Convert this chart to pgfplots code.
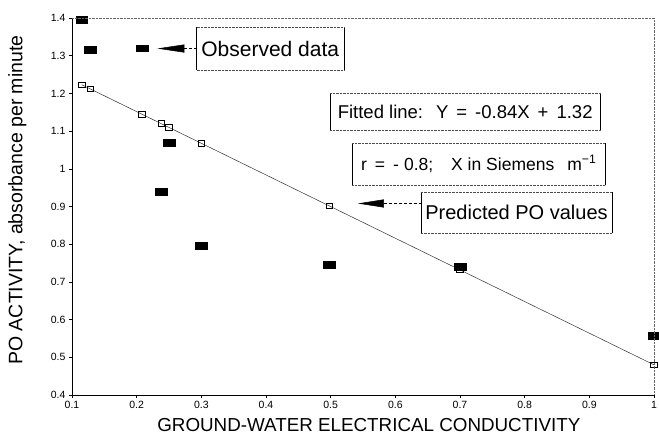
\documentclass[border=0pt]{standalone}
\usepackage{fontspec}
\setmainfont{Liberation Sans}
\usepackage{pgfplots}
\pgfplotsset{compat=1.18}
\usetikzlibrary{arrows.meta}

% observed PO activity vs conductivity
\pgfplotstableread{
x      y
0.115  1.395
0.128  1.316
0.208  1.320
0.238  0.940
0.250  1.069
0.300  0.795
0.498  0.745
0.700  0.740
1.000  0.557
}\observed

% predicted values, Y = -0.84X + 1.32
\pgfplotstableread{
x      y
0.115  1.223
0.128  1.212
0.208  1.145
0.238  1.120
0.250  1.110
0.300  1.068
0.498  0.902
0.700  0.732
1.000  0.480
}\predicted

\tikzset{
  annot/.style={inner sep=0pt, anchor=center},
  halfbox/.style={densely dotted, black!70},
}
\newcommand{\gap}[1][8pt]{\hspace{#1}}

\begin{document}
\begin{tikzpicture}
\begin{axis}[
    width=582pt, height=377pt, scale only axis,
    xmin=0.1, xmax=1, ymin=0.4, ymax=1.4,
    axis x line*=bottom, axis y line*=left,
    axis line style={black, line width=0.6pt},
    xtick={0.1,0.2,...,1.0},
    ytick={0.4,0.5,...,1.41},
    tick align=outside,
    major tick length=3pt,
    tick style={black, line width=0.5pt},
    /pgf/number format/assume math mode=true,
    ticklabel style={font=\fontsize{10.5}{12}\selectfont},
    xlabel={GROUND-WATER ELECTRICAL CONDUCTIVITY},
    ylabel={PO ACTIVITY, absorbance per minute},
    xlabel style={font=\fontsize{18.8}{20}\selectfont,
                  at={(axis description cs:0.51,-0.08)}, anchor=center},
    ylabel style={font=\fontsize{19.5}{21}\selectfont,
                  at={(axis description cs:-0.094,0.517)}, anchor=center},
    clip=false,
]
  % fitted line
  \addplot[black!80, line width=0.5pt, mark=none]
    coordinates {(0.115,1.223) (1.0,0.480)};
  % predicted values
  \addplot[only marks, mark=square, mark size=2.8pt,
           mark options={black, fill=white, line width=0.7pt, xscale=1.15}]
    table[x=x, y=y] {\predicted};
  % observed values
  \addplot[only marks, mark=square*, mark size=3.4pt,
           mark options={black, fill=black, xscale=1.75}]
    table[x=x, y=y] {\observed};

  \coordinate (O) at (rel axis cs:0,0);
  \coordinate (T) at (rel axis cs:1,1);
  \coordinate (TL) at (rel axis cs:0,1);
  \coordinate (BR) at (rel axis cs:1,0);
  \coordinate (obC) at (axis cs:0.4065,1.319);
  \coordinate (obTip) at (axis cs:0.232,1.319);
  \coordinate (fitC) at (axis cs:0.708,1.152);
  \coordinate (rrC) at (axis cs:0.729,1.0127);
  \coordinate (prC) at (axis cs:0.7874,0.884);
  \coordinate (prStart) at (axis cs:0.641,0.908);
  \coordinate (prTip) at (axis cs:0.542,0.908);
\end{axis}

\draw[densely dotted, black!60] (TL) -- (T) -- (BR);

% annotation boxes
\node[annot, minimum width=147pt, minimum height=43pt, font=\fontsize{21}{23}\selectfont] (ob) at (obC) {Observed data};
\node[annot, minimum width=270pt, minimum height=37pt, font=\fontsize{18.5}{20}\selectfont] (fit) at (fitC)
  {Fitted line:\gap[13pt]Y\gap=\gap-0.84X\gap+\gap1.32};
\node[annot, minimum width=253pt, minimum height=42pt, font=\fontsize{17.5}{19}\selectfont] (rr) at (rrC)
  {r\gap=\gap-\gap[5pt]0.8;\gap[18pt]X in Siemens\gap[13pt]m\textsuperscript{−1}};
\node[annot, minimum width=191pt, minimum height=41pt, font=\fontsize{20}{22}\selectfont] (pr) at (prC) {Predicted PO values};
\foreach \n in {ob,fit,rr,pr}{
  \draw[black, line width=0.5pt] (\n.north west) -- (\n.south west);
  \draw[black, line width=0.5pt] (\n.north east) -- (\n.south east);
  \draw[halfbox] (\n.north west) -- (\n.north east);
  \draw[halfbox] (\n.south west) -- (\n.south east);
}

% arrows
\draw[densely dashed, line width=0.5pt, -{Triangle[length=27pt, width=8pt]}]
  (ob.west) -- (obTip);
\draw[densely dashed, line width=0.5pt, -{Triangle[length=26pt, width=8pt]}]
  (prStart) -- (prTip);

\pgfresetboundingbox
\path[use as bounding box] ([shift={(-72pt,-44pt)}]O) rectangle ([shift={(5pt,18pt)}]T);
\end{tikzpicture}
\end{document}
